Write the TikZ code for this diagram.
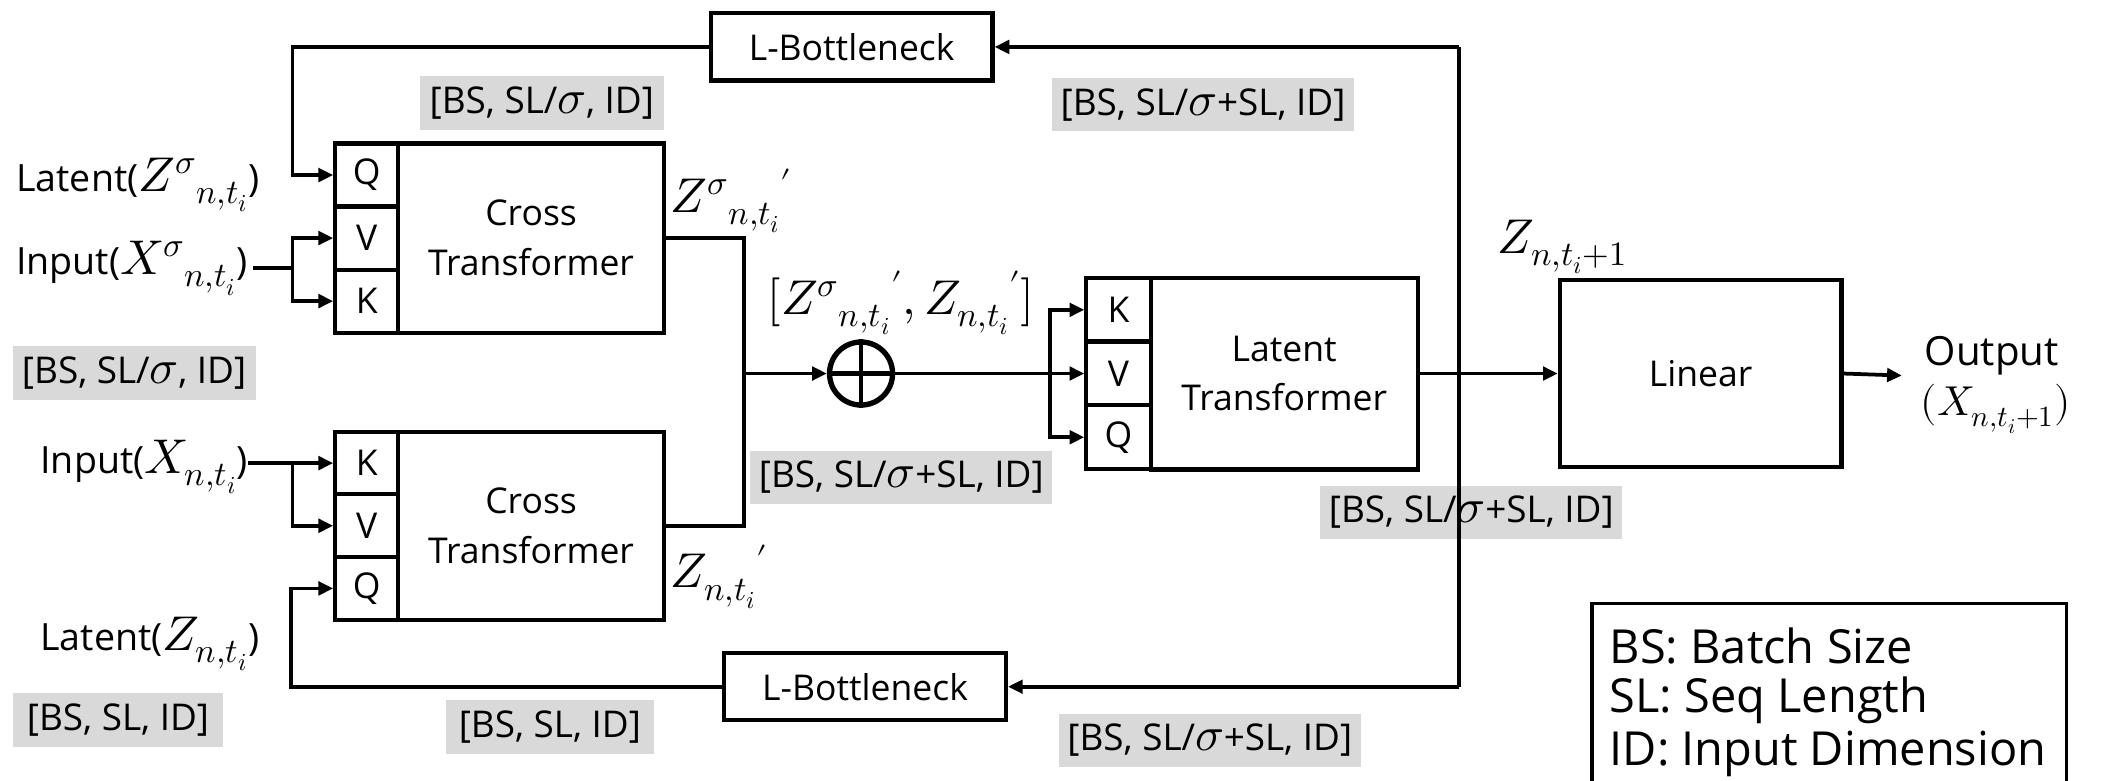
\documentclass[tikz,border=0pt]{standalone}
\usepackage{fontspec}
\usepackage{unicode-math}
\setmainfont{Open Sans}
\setmathfont{Latin Modern Math}[Scale=1.3]
\usetikzlibrary{arrows.meta,calc}
\definecolor{gbox}{RGB}{217,217,217}
\tikzset{
 blk/.style={draw, line width=3.1pt, inner sep=0pt, fill=white, font=\fontsize{26.5}{37}\selectfont, align=center},
 qkv/.style={blk, minimum width=47pt, minimum height=47pt},
 lbl/.style={inner sep=0pt, font=\fontsize{28}{34}\selectfont},
 graylbl/.style={fill=gbox, inner sep=0pt, minimum height=40pt, font=\fontsize{27.5}{32}\selectfont},
 con/.style={line width=2.8pt},
 arr/.style={con, -{Triangle[length=11pt,width=10pt]}},
}
\begin{document}
\begin{tikzpicture}[x=1pt,y=-1pt]
\useasboundingbox (0,0) rectangle (1568,582);
\clip (0,0) rectangle (1568,582);

% upper cross transformer
\node[qkv] (uQ) at (273.5,130.5) {Q};
\node[qkv] (uV) at (273.5,177.5) {V};
\node[qkv] (uK) at (273.5,224.5) {K};
\node[blk, minimum width=198pt, minimum height=141pt] (uCT) at (396,177.5) {Cross\\Transformer};

% lower cross transformer
\node[qkv] (lK) at (273.5,345.3) {K};
\node[qkv] (lV) at (273.5,392) {V};
\node[qkv] (lQ) at (273.5,438.7) {Q};
\node[blk, minimum width=198pt, minimum height=140pt] (lCT) at (396,392) {Cross\\Transformer};

% latent transformer
\node[qkv, minimum width=48pt, minimum height=47.7pt] (tK) at (834,231) {K};
\node[qkv, minimum width=48pt, minimum height=47.7pt] (tV) at (834,278.5) {V};
\node[qkv, minimum width=48pt, minimum height=47.7pt] (tQ) at (834,326) {Q};
\node[blk, minimum width=199pt, minimum height=143pt] (tLT) at (957.5,278.5) {Latent\\Transformer};

% linear
\node[blk, minimum width=210pt, minimum height=139pt] (lin) at (1268,278.5) {Linear};

% bottlenecks
\node[blk, minimum width=210pt, minimum height=50pt] (tb) at (635,35) {L-Bottleneck};
\node[blk, minimum width=210pt, minimum height=50pt] (bb) at (645,512) {L-Bottleneck};

% oplus
\node[draw, circle, line width=4pt, minimum size=47pt, inner sep=0pt] (op) at (642,278.5) {};
\draw[line width=3.6pt] (op.north) -- (op.south) (op.west) -- (op.east);

% labels
\node[lbl, anchor=west] (latU) at (12,138) {Latent($Z^{\sigma}{}_{n,t_i}$)};
\node[lbl, anchor=west] (inU) at (12,200) {Input($X^{\sigma}{}_{n,t_i}$)};
\node[lbl, anchor=west] (inL) at (30,348) {Input($X_{n,t_i}$)};
\node[lbl, anchor=west] (latL) at (30,480) {Latent($Z_{n,t_i}$)};
\node[lbl, anchor=west] (zu) at (500,150) {$Z^{\sigma}{}_{n,t_i}{}'$};
\node[lbl, anchor=west] (zl) at (500,430) {$Z_{n,t_i}{}'$};
\node[lbl, anchor=west] (cat) at (572,226) {$[Z^{\sigma}{}_{n,t_i}{}', Z_{n,t_i}{}']$};
\node[lbl] (znext) at (1165,184) {$Z_{n,t_i+1}$};
\node[lbl, font=\fontsize{30}{40}\selectfont] (out) at (1485,265) {Output};
\node[lbl, font=\fontsize{24}{30}\selectfont] (outx) at (1488,305) {$(X_{n,t_i+1})$};

% gray size labels
\node[graylbl, minimum width=182pt] (g1) at (404,77) {[BS, SL/$\sigma$, ID]};
\node[graylbl, minimum width=225pt] (g2) at (897,78) {[BS, SL/$\sigma$+SL, ID]};
\node[graylbl, minimum width=181pt] (g3) at (100,278) {[BS, SL/$\sigma$, ID]};
\node[graylbl, minimum width=225pt] (g4) at (672,356) {[BS, SL/$\sigma$+SL, ID]};
\node[graylbl, minimum width=225pt] (g5) at (1097,382) {[BS, SL/$\sigma$+SL, ID]};
\node[graylbl, minimum width=157pt] (g6) at (88,537) {[BS, SL, ID]};
\node[graylbl, minimum width=155pt] (g7) at (410,542) {[BS, SL, ID]};
\node[graylbl, minimum width=225pt] (g8) at (902,552) {[BS, SL/$\sigma$+SL, ID]};

% legend
\draw[line width=2.4pt] (1187,450) rectangle (1541,640);
\node[inner sep=0pt, anchor=west, font=\fontsize{35}{40}\selectfont] (leg1) at (1200,482) {BS: Batch Size};
\node[inner sep=0pt, anchor=west, font=\fontsize{35}{40}\selectfont] (leg2) at (1200,522) {SL: Seq Length};
\node[inner sep=0pt, anchor=west, font=\fontsize{35}{40}\selectfont] (leg3) at (1200,562) {ID: Input Dimension};

% coordinates
\coordinate (tl) at (218,35);
\coordinate (tr) at (1088,35);
\coordinate (br) at (1088,512);
\coordinate (bl) at (217,512);
\coordinate (jU) at (218,200);
\coordinate (jL) at (218,345.3);
\coordinate (jx) at (555,278.5);
\coordinate (jb) at (783,278.5);
\coordinate (oe) at (1418,280);

% connectors
\draw[con] (tr) -- (br);
\draw[arr] (tr) -- (tb.east);
\draw[arr] (tb.west) -- (tl) |- (uQ.west);
\draw[arr] (br) -- (bb.east);
\draw[arr] (bb.west) -- (bl) |- (lQ.west);
\draw[con] (inU.east) ++(4,0) -- (jU);
\draw[arr] (jU) |- (uV.west);
\draw[arr] (jU) |- (uK.west);
\draw[arr] (inL.east |- lK.west) -- (lK.west);
\draw[arr] (jL) |- (lV.west);
\draw[con] (uCT.east) -| (jx) |- (lCT.east);
\draw[arr] (jx) -- (op.west);
\draw[arr] (op.east) -- (tV.west);
\draw[arr] (jb) |- (tK.west);
\draw[arr] (jb) |- (tQ.west);
\draw[arr] (tLT.east) -- (lin.west);
\draw[arr] (lin.east) -- (oe);
\end{tikzpicture}
\end{document}
